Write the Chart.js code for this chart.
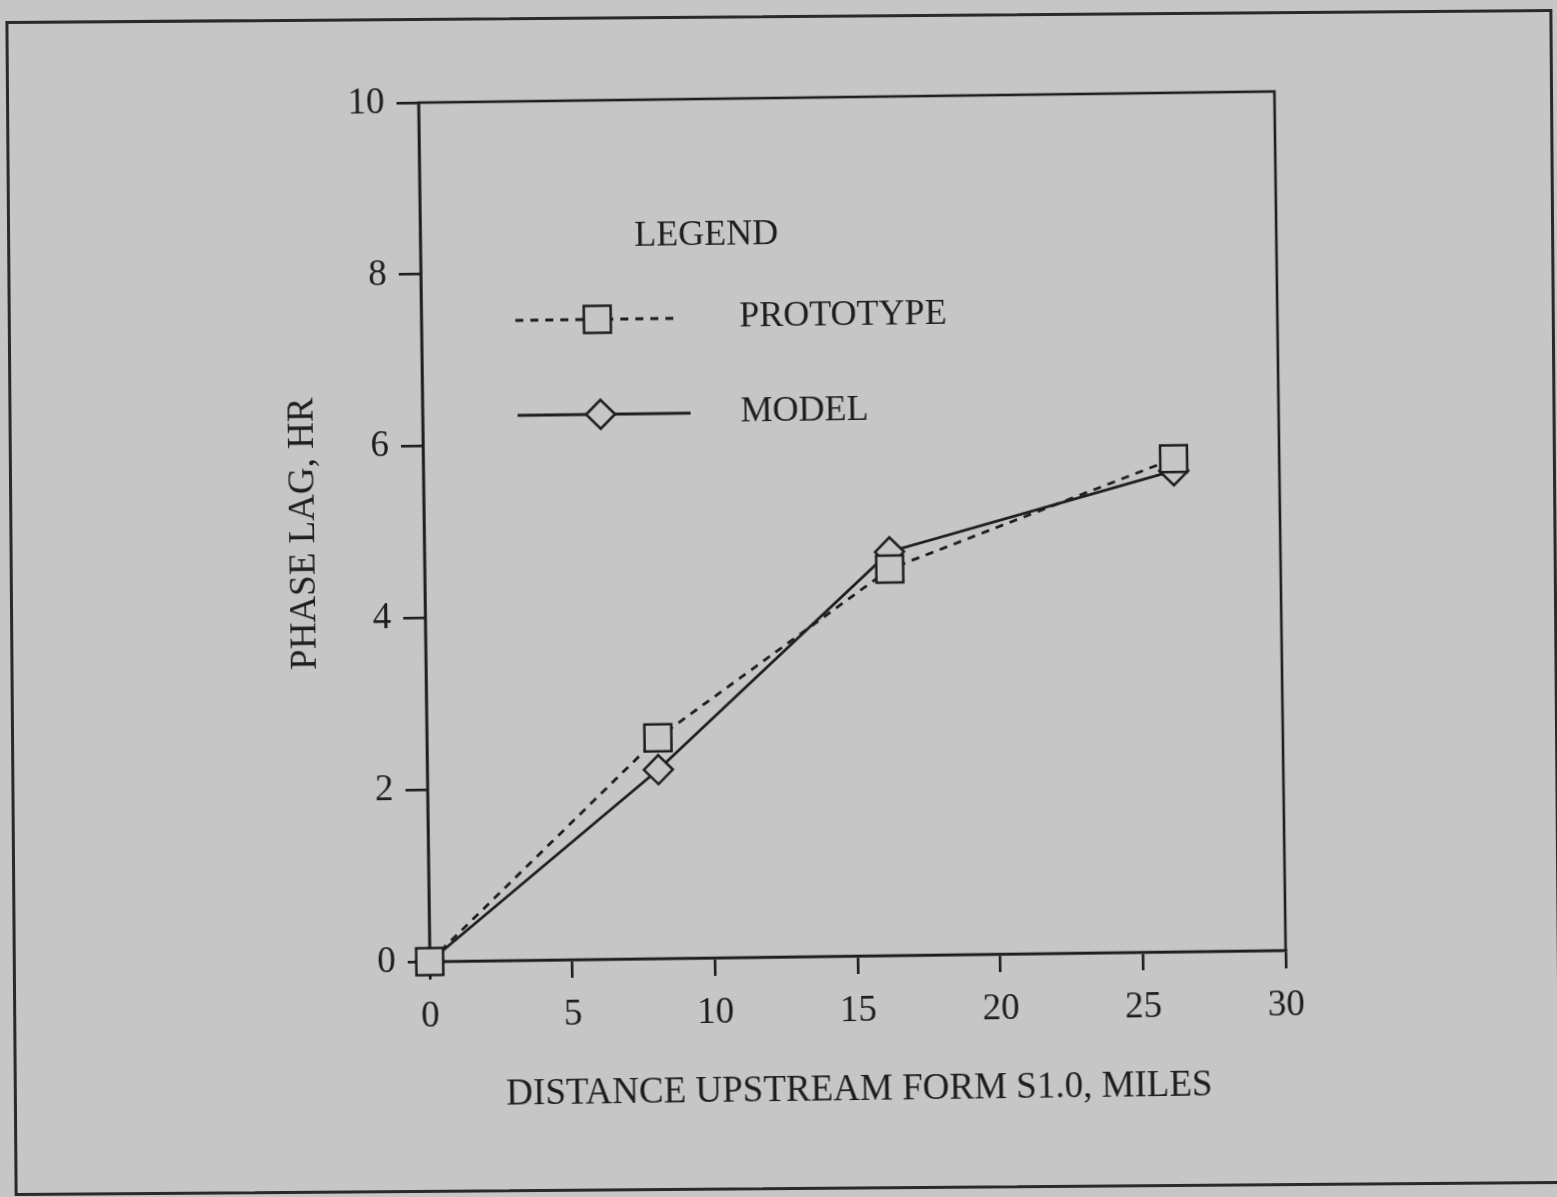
<!DOCTYPE html>
<html>
<head>
<meta charset="utf-8">
<title>Phase lag</title>
<script src="https://cdn.jsdelivr.net/npm/chart.js"></script>
<style>
  html, body { margin: 0; padding: 0; background: #c6c6c6; overflow: hidden; }
  #wrap {
    position: absolute; left: 0; top: 0; width: 1557px; height: 1197px;
    transform: rotate(-0.75deg); transform-origin: 50% 50%;
  }
  #frame {
    position: absolute; left: 10px; top: 15px; width: 1541px; height: 1169px;
    border: 3px solid #2a2a2a; transform: rotate(-0.45deg);
  }
</style>
</head>
<body>
<div id="frame"></div>
<div id="wrap"><canvas id="chart" width="1557" height="1197"></canvas></div>
<script>
// values
const distanceMiles = [0, 8.1, 16.3, 26.3]
const prototypeLag = [0, 2.57, 4.5, 5.74]
const modelLag = [0, 2.2, 4.7, 5.6]

const xTitle = 'DISTANCE UPSTREAM FORM S1.0, MILES'
const yTitle = 'PHASE LAG, HR'
const legendTitle = 'LEGEND'
const seriesNames = ['PROTOTYPE', 'MODEL']

const ink = '#1e1e1e'
const paper = '#c6c6c6'
const serif = 'Liberation Serif'

function toPoints(xs, ys) {
    return xs.map((x, i) => ({ x: x, y: ys[i] }))
}

// plot box + hand placed legend inside the plot area
const boxAndLegend = {
    id: 'boxAndLegend',
    beforeDatasetsDraw(chart) {
        const { ctx, chartArea: a } = chart
        ctx.save()
        ctx.strokeStyle = ink
        ctx.lineWidth = 2.6
        ctx.strokeRect(a.left, a.top, a.right - a.left, a.bottom - a.top)
        ctx.restore()
    },
    afterDatasetsDraw(chart) {
        const { ctx, chartArea: a } = chart
        const L = a.left, T = a.top
        ctx.save()
        ctx.fillStyle = ink
        ctx.font = '36px "' + serif + '"'
        ctx.textBaseline = 'middle'
        ctx.textAlign = 'center'
        ctx.fillText(legendTitle, L + 286, T + 137)
        ctx.textAlign = 'left'

        const rows = [
            { ds: chart.data.datasets[0], x0: L + 94, x1: L + 259, xm: L + 176, y: T + 219 },
            { ds: chart.data.datasets[1], x0: L + 95, x1: L + 268, xm: L + 178, y: T + 314 }
        ]
        rows.forEach(r => {
            ctx.save()
            ctx.strokeStyle = r.ds.borderColor
            ctx.lineWidth = r.ds.borderWidth
            ctx.setLineDash(r.ds.borderDash || [])
            ctx.beginPath()
            ctx.moveTo(r.x0, r.y)
            ctx.lineTo(r.x1, r.y)
            ctx.stroke()
            ctx.setLineDash([])
            ctx.fillStyle = r.ds.pointBackgroundColor
            ctx.strokeStyle = r.ds.pointBorderColor
            ctx.lineWidth = r.ds.pointBorderWidth
            Chart.helpers.drawPoint(ctx, { pointStyle: r.ds.pointStyle, radius: r.ds.pointRadius, rotation: 0, borderWidth: r.ds.pointBorderWidth }, r.xm, r.y)
            ctx.restore()
            ctx.fillText(r.ds.label, L + 318, r.y)
        })
        ctx.restore()
    }
}

new Chart(document.getElementById('chart'), {
    type: 'scatter',
    data: {
        datasets: [{
            label: seriesNames[0],
            data: toPoints(distanceMiles, prototypeLag),
            showLine: true,
            clip: false,
            borderColor: ink,
            borderWidth: 2.8,
            borderDash: [8, 7],
            pointStyle: 'rect',
            pointRadius: 19,
            pointBorderWidth: 2.5,
            pointBorderColor: ink,
            pointBackgroundColor: paper
        }, {
            label: seriesNames[1],
            data: toPoints(distanceMiles, modelLag),
            showLine: true,
            clip: false,
            borderColor: ink,
            borderWidth: 2.8,
            pointStyle: 'rectRot',
            pointRadius: 14.5,
            pointBorderWidth: 2.5,
            pointBorderColor: ink,
            pointBackgroundColor: paper
        }]
    },
    options: {
        responsive: false,
        animation: false,
        layout: { padding: { left: 0, top: 98, right: 276, bottom: 0 } },
        plugins: {
            legend: { display: false },
            tooltip: { enabled: false }
        },
        scales: {
            x: {
                type: 'linear',
                min: 0,
                max: 30,
                afterFit: s => { s.height = 240 },
                ticks: {
                    stepSize: 5,
                    color: ink,
                    padding: 15,
                    font: { family: serif, size: 37 }
                },
                grid: { drawOnChartArea: false, drawTicks: true, tickLength: 18, color: ink, lineWidth: 2.6 },
                border: { display: true, color: ink, width: 2.6 },
                title: {
                    display: true,
                    text: xTitle,
                    color: ink,
                    font: { family: serif, size: 37 },
                    padding: { top: 0, bottom: 84 }
                }
            },
            y: {
                min: 0,
                max: 10,
                afterFit: s => { s.width = 425 },
                ticks: {
                    stepSize: 2,
                    color: ink,
                    padding: 12,
                    font: { family: serif, size: 37 }
                },
                grid: { drawOnChartArea: false, drawTicks: true, tickLength: 22, color: ink, lineWidth: 2.6 },
                border: { display: true, color: ink, width: 2.6 },
                title: {
                    display: true,
                    text: yTitle,
                    color: ink,
                    font: { family: serif, size: 37 },
                    padding: { top: 283, bottom: 0 }
                }
            }
        }
    },
    plugins: [boxAndLegend]
})
</script>
</body>
</html>
